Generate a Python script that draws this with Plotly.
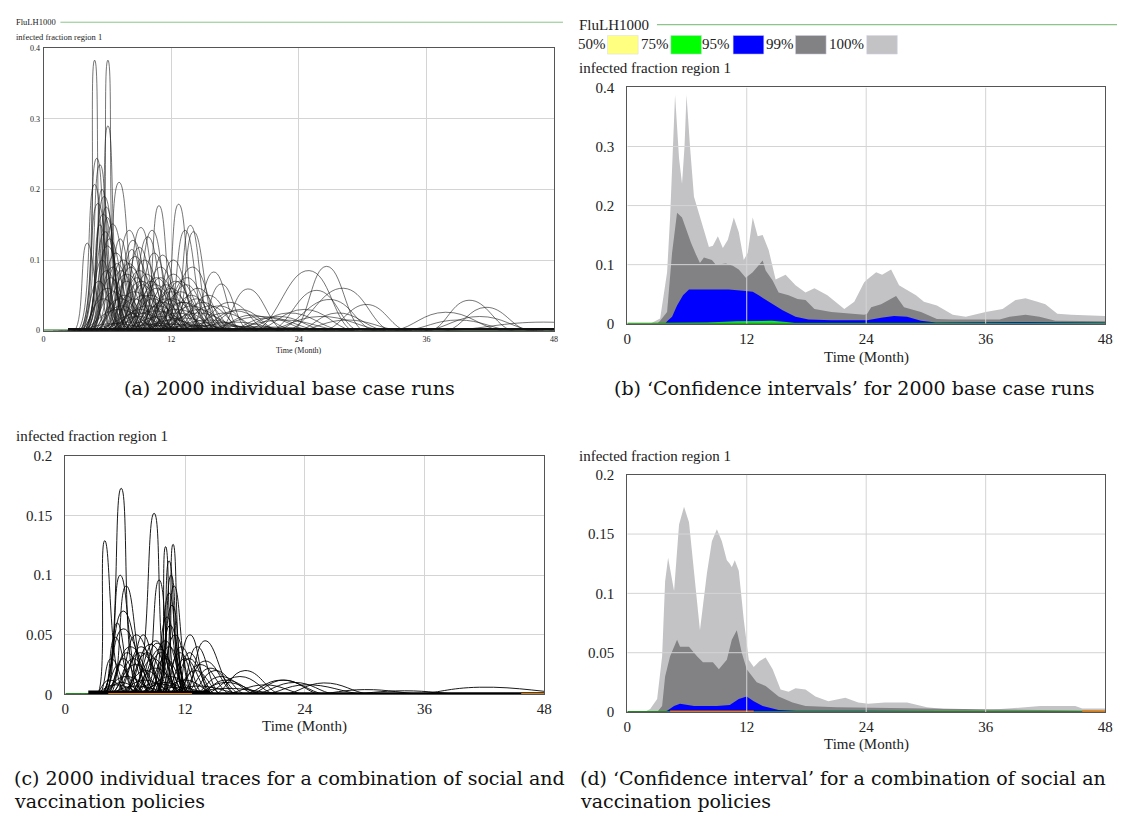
import plotly.graph_objects as go

W, H = 1125, 822
def px(x): return x / W
def py(y): return 1 - y / H

SERIF = "Liberation Serif"
CAP = "DejaVu Serif"

# ---------------- data ----------------
# (a) individual base-case runs: start, peak time, peak value, end (months / fraction)
A_START = [3.6, 4.7, 4.6, 3.4, 3.6, 5.2, 3.2, 3.8, 3.4, 3.9, 9.2, 11.0, 12.0, 11.4, 12.3, 7.0, 8.0, 5.8, 4.6, 7.6,
           6.2, 2.9, 9.0, 13.8, 14.5, 16.5, 4.0, 4.5, 5.0, 6.0, 5.5, 7.0, 6.5, 8.5, 8.0, 9.5, 10.0, 10.5, 5.0, 6.0,
           7.5, 4.2, 3.8, 4.3, 11.5, 12.5, 9.0, 7.0, 5.5, 8.5, 10.0, 13.0, 14.5, 6.0, 4.5, 3.5, 11.0, 6.8, 8.2, 9.8,
           5.0, 7.0, 9.0, 11.0, 13.0, 15.0, 17.0, 3.5, 6.0, 8.0, 10.5, 20.0, 23.5, 23.0, 21.5, 26.5, 36.5, 38.0, 33.0, 22.0,
           20.0, 19.0, 21.0, 24.0, 34.0, 36.0, 18.0, 38.0, 24.0, 3.0, 4.0, 5.0, 6.5, 8.0, 9.5, 11.5, 13.5, 16.0,
           3.8, 4.0, 4.4, 4.8, 5.2, 5.6, 6.0, 6.4, 6.8, 7.2, 7.6, 8.0, 8.4, 8.8, 9.2, 9.6, 10.0, 10.5, 11.0, 11.5,
           12.0, 12.5, 4.2, 5.0, 5.8, 6.6, 7.4, 8.2, 9.0, 9.8, 10.6, 3.5, 4.6, 6.2, 7.8, 9.4, 11.2, 13.5, 14.0, 15.0,
           16.0, 17.5, 5.4, 8.6, 12.0, 3.4, 4.5, 5.5, 6.5, 4.0, 4.1, 4.3]
A_PEAK_T = [4.8, 6.05, 6.05, 5.0, 5.3, 7.1, 4.8, 5.7, 5.1, 5.6, 10.85, 12.7, 13.8, 13.3, 14.1, 9.15, 10.2, 8.06, 6.5, 9.8,
            8.4, 4.1, 11.2, 16.0, 16.7, 19.2, 6.0, 6.8, 7.5, 8.6, 8.0, 9.5, 9.0, 11.0, 10.6, 12.2, 12.8, 13.5, 7.8, 9.2,
            10.5, 6.5, 5.8, 6.2, 14.5, 15.5, 12.0, 10.0, 8.5, 11.5, 13.2, 16.5, 18.0, 9.8, 7.2, 6.0, 14.0, 9.0, 10.4, 12.2,
            9.0, 11.0, 13.0, 15.5, 18.0, 20.5, 22.5, 7.0, 10.5, 12.5, 14.5, 24.96, 26.6, 28.2, 25.7, 30.4, 40.0, 41.6, 37.8, 27.0,
            24.5, 23.0, 26.0, 28.5, 39.0, 41.0, 22.0, 47.0, 27.6, 6.5, 8.0, 9.5, 11.0, 12.5, 14.0, 16.0, 18.5, 21.0,
            5.5, 5.9, 6.3, 6.9, 7.3, 7.8, 8.2, 8.8, 9.3, 9.7, 10.1, 10.6, 11.0, 11.5, 12.0, 12.4, 12.9, 13.4, 13.9, 14.4,
            15.0, 15.6, 6.6, 7.6, 8.5, 9.4, 10.3, 11.2, 12.1, 13.0, 13.9, 5.6, 7.3, 9.1, 10.8, 12.6, 14.6, 17.0, 17.5, 18.5,
            19.5, 21.0, 8.8, 12.0, 16.0, 5.2, 6.0, 7.2, 8.3, 5.3, 5.5, 5.9]
A_PEAK_V = [0.383, 0.383, 0.29, 0.244, 0.235, 0.21, 0.207, 0.19, 0.18, 0.165, 0.177, 0.179, 0.149, 0.142, 0.14, 0.146, 0.142, 0.142, 0.151, 0.133,
            0.128, 0.124, 0.107, 0.083, 0.066, 0.059, 0.12, 0.11, 0.1, 0.105, 0.095, 0.1, 0.085, 0.09, 0.075, 0.08, 0.07, 0.075, 0.08, 0.07,
            0.065, 0.09, 0.14, 0.13, 0.06, 0.05, 0.055, 0.05, 0.055, 0.045, 0.04, 0.035, 0.028, 0.035, 0.045, 0.06, 0.09, 0.118, 0.11, 0.1,
            0.025, 0.02, 0.018, 0.015, 0.012, 0.02, 0.015, 0.03, 0.028, 0.03, 0.025, 0.085, 0.091, 0.06, 0.057, 0.037, 0.043, 0.033, 0.026, 0.044,
            0.03, 0.025, 0.02, 0.015, 0.015, 0.02, 0.02, 0.012, 0.025, 0.01, 0.012, 0.008, 0.01, 0.009, 0.007, 0.008, 0.006, 0.005,
            0.1, 0.085, 0.075, 0.095, 0.085, 0.07, 0.09, 0.075, 0.065, 0.08, 0.07, 0.06, 0.075, 0.065, 0.06, 0.07, 0.055, 0.065, 0.05, 0.045,
            0.04, 0.035, 0.055, 0.05, 0.045, 0.05, 0.045, 0.04, 0.045, 0.04, 0.035, 0.045, 0.035, 0.03, 0.035, 0.025, 0.03, 0.025, 0.04, 0.03,
            0.022, 0.018, 0.02, 0.015, 0.012, 0.07, 0.16, 0.13, 0.115, 0.15, 0.2, 0.175]
A_END = [6.4, 7.5, 7.8, 7.0, 7.2, 9.4, 6.8, 8.0, 7.4, 8.2, 12.8, 14.8, 16.0, 15.6, 16.5, 11.5, 12.5, 10.5, 9.0, 12.2,
         11.0, 6.0, 13.6, 18.5, 19.2, 22.5, 8.5, 9.5, 10.5, 11.5, 11.0, 12.2, 12.0, 13.8, 13.5, 15.0, 15.8, 16.5, 11.0, 12.5,
         13.8, 9.0, 8.2, 8.8, 17.5, 18.5, 15.2, 13.5, 12.0, 15.0, 16.8, 20.0, 22.0, 13.8, 10.5, 9.0, 17.0, 11.4, 12.8, 14.8,
         13.0, 15.5, 17.5, 20.0, 23.0, 26.0, 28.0, 11.0, 15.0, 17.0, 19.0, 29.0, 30.0, 32.5, 29.5, 34.0, 44.0, 45.5, 43.0, 31.0,
         29.0, 28.0, 32.0, 33.5, 44.0, 46.0, 26.5, 56.0, 32.0, 11.0, 13.0, 15.0, 16.5, 18.0, 20.0, 22.0, 25.0, 28.0,
         7.5, 8.3, 8.8, 9.3, 9.8, 10.3, 10.8, 11.3, 11.9, 12.3, 12.8, 13.3, 13.8, 14.3, 14.8, 15.2, 15.8, 16.2, 16.8, 17.3,
         18.0, 18.8, 9.4, 10.4, 11.4, 12.4, 13.4, 14.4, 15.4, 16.4, 17.4, 8.2, 10.2, 12.3, 14.0, 16.0, 18.0, 20.5, 21.0, 22.0,
         23.5, 25.0, 12.5, 16.0, 20.0, 7.4, 7.8, 9.2, 10.3, 7.0, 7.3, 7.9]

# (c) individual traces, social + vaccination policies
C_START = [3.7, 3.2, 6.8, 9.9, 9.2, 4.0, 4.5, 7.8, 9.3, 9.6, 3.6, 3.6, 12.0, 11.4, 6.5, 9.0, 15.0, 18.5, 5.0, 22.0,
           18.0, 35.0, 20.0, 4.0, 5.0, 6.0, 7.0, 8.0, 4.5, 6.5, 9.5, 10.0, 11.0, 12.0, 13.0, 3.8, 4.2, 8.5, 9.0, 5.5,
           7.5, 3.5, 10.5, 11.2, 2.8, 4.0, 6.0, 8.0, 10.0, 12.0,
           3.4, 3.8, 4.2, 4.6, 5.2, 5.8, 6.4, 7.2, 7.8, 8.4, 9.0, 9.8, 10.4, 10.8, 11.6, 12.5, 13.5, 3.0, 3.6, 5.0,
           7.0, 9.0, 4.0, 8.8, 9.2, 6.0, 7.0, 13.0, 14.0, 16.0, 19.0, 25.0, 28.0]
C_PEAK_T = [5.6, 3.95, 8.9, 10.8, 10.05, 5.5, 6.1, 9.4, 10.4, 10.9, 5.8, 5.8, 14.0, 13.2, 9.05, 10.5, 18.0, 21.9, 7.1, 25.9,
            21.6, 41.5, 24.0, 6.5, 7.5, 8.5, 9.5, 10.0, 7.0, 9.0, 11.5, 12.0, 13.5, 14.5, 15.5, 5.0, 5.8, 10.2, 10.7, 8.0,
            10.5, 6.0, 12.5, 12.4, 5.0, 7.0, 9.0, 11.0, 13.0, 16.0,
            4.6, 5.4, 6.2, 6.8, 7.6, 8.2, 8.8, 9.6, 10.0, 10.4, 11.0, 11.6, 12.4, 13.0, 14.0, 15.0, 16.0, 4.4, 5.6, 8.0,
            10.0, 12.0, 5.2, 10.4, 10.6, 7.8, 9.2, 16.0, 17.5, 20.0, 23.0, 30.0, 34.0]
C_PEAK_V = [0.173, 0.129, 0.152, 0.126, 0.124, 0.1, 0.091, 0.096, 0.112, 0.091, 0.07, 0.055, 0.045, 0.04, 0.045, 0.058, 0.02, 0.012, 0.05, 0.0096,
            0.012, 0.006, 0.008, 0.04, 0.035, 0.042, 0.038, 0.03, 0.025, 0.022, 0.035, 0.03, 0.025, 0.022, 0.015, 0.048, 0.03, 0.065, 0.075, 0.02,
            0.015, 0.015, 0.05, 0.035, 0.008, 0.007, 0.009, 0.006, 0.007, 0.005,
            0.03, 0.025, 0.035, 0.03, 0.04, 0.035, 0.03, 0.035, 0.045, 0.04, 0.05, 0.04, 0.03, 0.02, 0.028, 0.02, 0.012, 0.012, 0.01, 0.012,
            0.01, 0.012, 0.06, 0.085, 0.1, 0.05, 0.043, 0.01, 0.015, 0.008, 0.01, 0.004, 0.003]
C_END = [7.4, 6.0, 10.6, 12.2, 11.4, 7.8, 8.5, 11.2, 12.0, 12.8, 8.6, 9.2, 17.0, 15.5, 11.5, 12.5, 21.5, 25.5, 10.0, 30.5,
         26.0, 52.0, 30.0, 9.5, 10.5, 11.5, 12.0, 12.5, 10.0, 12.0, 13.5, 14.5, 16.5, 17.5, 19.0, 7.0, 8.0, 12.0, 12.3, 11.0,
         13.5, 9.5, 14.5, 15.0, 8.0, 11.0, 13.0, 15.0, 18.0, 22.0,
         6.5, 7.5, 8.5, 9.2, 10.0, 10.8, 11.4, 12.0, 12.4, 12.6, 13.0, 13.8, 14.8, 15.6, 17.0, 18.0, 19.5, 6.5, 8.0, 11.0,
         13.0, 15.0, 7.0, 12.0, 12.0, 9.8, 11.5, 20.0, 21.0, 24.0, 27.0, 36.0, 40.0]

# (b) confidence bands, base case (upper bounds; lower bounds ~0)
B_T_100 = [0, 2.3, 3.3, 4.0, 4.3, 4.6, 4.8, 5.2, 5.5, 5.75, 5.95, 6.3, 6.7, 7.0, 7.7, 8.2, 8.6, 9.1, 9.6, 10.1, 10.7, 11.2,
           11.7, 12.1, 12.6, 13.1, 13.6, 14.2, 14.9, 15.9, 16.9, 17.9, 18.8, 20.1, 21.8, 22.8, 23.8, 24.1, 25.0, 25.6, 26.5,
           27.3, 27.8, 29.0, 29.8, 31.1, 32.7, 34.0, 36.0, 37.7, 39.0, 40.0, 41.2, 42.0, 43.2, 44.6, 48]
B_V_100 = [0, 0, 0.009, 0.087, 0.18, 0.3, 0.387, 0.28, 0.237, 0.3, 0.387, 0.3, 0.215, 0.198, 0.158, 0.13, 0.132, 0.148, 0.128, 0.142, 0.18, 0.155,
           0.108, 0.12, 0.18, 0.148, 0.15, 0.125, 0.075, 0.083, 0.065, 0.053, 0.06, 0.048, 0.025, 0.037, 0.07, 0.075, 0.087, 0.083, 0.092,
           0.065, 0.06, 0.048, 0.037, 0.031, 0.015, 0.012, 0.02, 0.025, 0.04, 0.043, 0.037, 0.033, 0.017, 0.015, 0.013]
B_T_99 = [0, 3.0, 3.3, 4.0, 4.5, 5.0, 5.5, 5.95, 6.4, 6.9, 7.3, 7.7, 8.5, 8.9, 9.9, 10.6, 11.2, 11.9, 12.6, 13.6, 13.9, 14.6,
          15.2, 16.2, 17.1, 17.9, 18.8, 20.5, 22.1, 23.8, 24.1, 24.5, 25.5, 27.0, 27.8, 29.5, 31.1, 32.7, 37.4, 38.4, 40.0,
          41.4, 43.0, 48]
B_V_99 = [0, 0, 0.005, 0.02, 0.12, 0.188, 0.18, 0.158, 0.137, 0.117, 0.103, 0.112, 0.108, 0.1, 0.102, 0.098, 0.092, 0.078, 0.087, 0.107, 0.09, 0.073,
          0.053, 0.048, 0.042, 0.04, 0.025, 0.02, 0.017, 0.015, 0.017, 0.028, 0.033, 0.047, 0.028, 0.02, 0.008, 0.007, 0.007, 0.012, 0.015,
          0.012, 0.005, 0.004]
B_T_95 = [0, 3.8, 4.0, 4.5, 5.0, 5.6, 6.2, 7.6, 8.9, 10.2, 11.6, 12.6, 13.2, 14.2, 15.6, 16.9, 18.2, 20.5, 23.8, 24.1, 25.5,
          26.8, 28.1, 29.5, 31.0, 40.0, 48]
B_V_95 = [0, 0, 0.004, 0.012, 0.031, 0.048, 0.058, 0.058, 0.058, 0.058, 0.056, 0.054, 0.048, 0.037, 0.023, 0.012, 0.007, 0.006, 0.006, 0.006, 0.01,
          0.013, 0.012, 0.005, 0.002, 0.003, 0.002]
B_T_75 = [0, 5, 8, 11, 13, 14.5, 16, 17, 48]
B_V_75 = [0.001, 0.001, 0.002, 0.004, 0.005, 0.005, 0.003, 0.001, 0.001]
B_T_50 = [0, 48]
B_V_50 = [0.0006, 0.0006]

# (d) confidence bands, social + vaccination policies
D_T_100 = [0, 1.7, 2.3, 3.0, 3.5, 3.8, 4.1, 4.5, 4.7, 5.2, 5.7, 6.2, 6.7, 7.3, 8.0, 8.5, 9.0, 9.5, 10.0, 10.3, 10.5, 10.8,
           11.2, 11.7, 12.2, 12.7, 13.3, 13.9, 14.6, 15.4, 16.2, 16.9, 17.9, 18.9, 20.2, 21.9, 23.2, 24.2, 25.9, 28.1, 30.1,
           31.8, 35.8, 38.5, 41.5, 45.0, 45.7, 48]
D_V_100 = [0, 0, 0.0025, 0.011, 0.047, 0.11, 0.13, 0.11, 0.102, 0.158, 0.173, 0.16, 0.117, 0.069, 0.117, 0.144, 0.154, 0.144, 0.128, 0.125, 0.122, 0.128,
           0.119, 0.078, 0.044, 0.038, 0.043, 0.046, 0.036, 0.019, 0.017, 0.02, 0.019, 0.013, 0.009, 0.012, 0.008, 0.007, 0.008, 0.008, 0.004,
           0.0025, 0.0015, 0.003, 0.005, 0.005, 0.003, 0.003]
D_T_99 = [0, 3.0, 3.5, 3.8, 4.3, 5.0, 5.3, 6.2, 7.0, 7.6, 8.6, 9.2, 10.0, 10.5, 11.0, 11.5, 12.0, 13.0, 13.9, 15.2, 16.6, 17.9,
          21.0, 30.0, 48]
D_V_99 = [0, 0, 0.005, 0.03, 0.047, 0.061, 0.055, 0.055, 0.047, 0.042, 0.042, 0.036, 0.044, 0.061, 0.069, 0.05, 0.036, 0.025, 0.022, 0.013, 0.008, 0.005,
          0.004, 0.003, 0.001]
D_T_95 = [0, 3.5, 4.0, 4.7, 5.3, 6.7, 9.0, 10.3, 11.2, 12.0, 12.7, 13.6, 15.2, 17.0, 24.0, 48]
D_V_95 = [0, 0, 0.001, 0.005, 0.007, 0.005, 0.005, 0.006, 0.011, 0.013, 0.009, 0.005, 0.0017, 0.001, 0.001, 0.0005]

# near-zero runs (thick baseline) and coloured baseline runs
BASE_T = [0, 48]
BASE_V = [0.0, 0.0]
A_MASS_T = [2.3, 48]
A_MASS_V = [0.0015, 0.0015]
C_MASS_T = [2.3, 14.5]
C_MASS_V = [0.0015, 0.0015]
C_TAIL_T = [14.5, 48]
C_TAIL_V = [0.001, 0.001]
ORANGE_T1 = [4.3, 12.7]
ORANGE_T2 = [45.7, 48]
ORANGE_V = [0.0006, 0.0006]

X_TICKS = [0, 12, 24, 36, 48]
Y_TICKS_A = [0, 0.1, 0.2, 0.3, 0.4]
Y_TEXT_A = ["0", "0.1", "0.2", "0.3", "0.4"]
Y_TICKS_C = [0, 0.05, 0.1, 0.15, 0.2]
Y_TEXT_C = ["0", "0.05", "0.1", "0.15", "0.2"]

LEGEND_LABELS = ["50%", "75%", "95%", "99%", "100%"]
BAND_COLORS = {"50%": "#ffff80", "75%": "#00ff00", "95%": "#0000ff", "99%": "#828184", "100%": "#c3c2c5"}

# ---------------- figure ----------------
fig = go.Figure()

def bell(s, p, h, e):
    return [s - 0.6 * (p - s), s, p, e, e + 0.6 * (e - p)], [0, 0, h, 0, 0]

def line(x, y, xa, ya, color, width, shape="linear"):
    ln = dict(color=color, width=width, shape=shape)
    if shape == "spline":
        ln["smoothing"] = 1.3
    fig.add_trace(go.Scatter(x=x, y=y, mode="lines", line=ln,
                             xaxis=xa, yaxis=ya, showlegend=False, hoverinfo="skip"))

# panel (a)
line(BASE_T, BASE_V, "x", "y", "#1f6b1f", 2)
for s, p, h, e in zip(A_START, A_PEAK_T, A_PEAK_V, A_END):
    xs, ys = bell(s, p, h, e)
    line(xs, ys, "x", "y", "#1a1a1a", 0.6, "spline")
line(A_MASS_T, A_MASS_V, "x", "y", "#111111", 3)

# panel (c)
line(BASE_T, BASE_V, "x3", "y3", "#1f8a1f", 2.5)
for s, p, h, e in zip(C_START, C_PEAK_T, C_PEAK_V, C_END):
    xs, ys = bell(s, p, h, e)
    line(xs, ys, "x3", "y3", "#000000", 0.9, "spline")
line(C_MASS_T, C_MASS_V, "x3", "y3", "#000000", 4)
line(C_TAIL_T, C_TAIL_V, "x3", "y3", "#000000", 2)
for ot in (ORANGE_T1, ORANGE_T2):
    line(ot, ORANGE_V, "x3", "y3", "#e07b00", 1.5)

# panel (b)
for t, v, key in [(B_T_100, B_V_100, "100%"), (B_T_99, B_V_99, "99%"), (B_T_95, B_V_95, "95%"),
                  (B_T_75, B_V_75, "75%"), (B_T_50, B_V_50, "50%")]:
    fig.add_trace(go.Scatter(x=t, y=v, mode="lines", fill="tozeroy", fillcolor=BAND_COLORS[key],
                             line=dict(width=0, color=BAND_COLORS[key]),
                             xaxis="x2", yaxis="y2", showlegend=False, hoverinfo="skip"))
line(BASE_T, BASE_V, "x2", "y2", "#1f8a1f", 2)

# panel (d)
for t, v, key in [(D_T_100, D_V_100, "100%"), (D_T_99, D_V_99, "99%"), (D_T_95, D_V_95, "95%")]:
    fig.add_trace(go.Scatter(x=t, y=v, mode="lines", fill="tozeroy", fillcolor=BAND_COLORS[key],
                             line=dict(width=0, color=BAND_COLORS[key]),
                             xaxis="x4", yaxis="y4", showlegend=False, hoverinfo="skip"))
line(BASE_T, BASE_V, "x4", "y4", "#1f8a1f", 2)
for ot in (ORANGE_T1, ORANGE_T2):
    line(ot, ORANGE_V, "x4", "y4", "#e07b00", 1.5)

def xax(dom, anchor, fs, standoff, grid=True):
    return dict(domain=dom, anchor=anchor, range=[0, 48], tickmode="array", tickvals=X_TICKS,
                ticktext=[str(v) for v in X_TICKS], showgrid=grid, gridcolor="#d4d4d4", gridwidth=1,
                zeroline=False, showline=True, mirror=True, linecolor="#555555", linewidth=1,
                ticks="outside", ticklen=standoff, tickcolor="rgba(0,0,0,0)",
                tickfont=dict(family=SERIF, size=fs, color="#222"), fixedrange=True)

def yax(dom, anchor, rng, vals, text, fs, standoff, grid=True):
    return dict(domain=dom, anchor=anchor, range=rng, tickmode="array", tickvals=vals, ticktext=text,
                showgrid=grid, gridcolor="#d4d4d4", gridwidth=1, zeroline=False, showline=True, mirror=True,
                linecolor="#555555", linewidth=1, ticks="outside", ticklen=standoff,
                tickcolor="rgba(0,0,0,0)", tickfont=dict(family=SERIF, size=fs, color="#222"), fixedrange=True)

fig.update_layout(
    width=W, height=H, margin=dict(l=0, r=0, t=0, b=0),
    paper_bgcolor="white", plot_bgcolor="white", showlegend=False,
    xaxis=xax([px(40), px(556)], "y", 8, 1),
    yaxis=yax([py(329), py(41)], "x", [0, 0.4], Y_TICKS_A, Y_TEXT_A, 8, 1),
    xaxis2=xax([px(630), px(1113)], "y2", 15, 1, grid=False),
    yaxis2=yax([py(322), py(81)], "x2", [0, 0.4], Y_TICKS_A, Y_TEXT_A, 15, 9, grid=False),
    xaxis3=xax([px(62), px(546)], "y3", 15, 1),
    yaxis3=yax([py(700), py(457)], "x3", [0, 0.2], Y_TICKS_C, Y_TEXT_C, 15, 9),
    xaxis4=xax([px(630), px(1113)], "y4", 15, 1, grid=False),
    yaxis4=yax([py(718), py(476)], "x4", [0, 0.2], Y_TICKS_C, Y_TEXT_C, 15, 9, grid=False),
)

shapes = []
# gridlines drawn above the bands in (b) and (d)
for xr, yr, yt in [("x2", "y2", Y_TICKS_A), ("x4", "y4", Y_TICKS_C)]:
    for gx in X_TICKS[1:-1]:
        shapes.append(dict(type="line", xref=xr, yref=yr, x0=gx, x1=gx, y0=0, y1=yt[-1],
                           line=dict(color="#d4d4d4", width=1), layer="above"))
    for gy in yt[1:-1]:
        shapes.append(dict(type="line", xref=xr, yref=yr, x0=0, x1=48, y0=gy, y1=gy,
                           line=dict(color="#d4d4d4", width=1), layer="above"))
# title rules
shapes.append(dict(type="line", xref="paper", yref="paper", x0=px(57), x1=px(565), y0=py(14.5), y1=py(14.5),
                   line=dict(color="#8cc48c", width=1)))
shapes.append(dict(type="line", xref="paper", yref="paper", x0=px(660), x1=px(1125), y0=py(17), y1=py(17),
                   line=dict(color="#8cc48c", width=1.3)))

annotations = []
def txt(x, y, s, size, anchor="left", family=SERIF, color="#222"):
    annotations.append(dict(x=px(x), y=py(y), xref="paper", yref="paper", text=s, showarrow=False,
                            xanchor=anchor, yanchor="middle", font=dict(family=family, size=size, color=color)))

# legend for (b)
legend_x = [578, 642, 704, 768, 832]
box_x = [610, 674, 737, 800, 872]
for lab, tx, bx in zip(LEGEND_LABELS, legend_x, box_x):
    txt(tx, 37, lab, 15)
    shapes.append(dict(type="rect", xref="paper", yref="paper", x0=px(bx), x1=px(bx + 31), y0=py(47), y1=py(28),
                       fillcolor=BAND_COLORS[lab], line=dict(color="#d8d8f0", width=0.5)))

txt(10, 14.5, "FluLH1000", 8.5)
txt(10, 30, "infected fraction region 1", 8.5)
txt(298, 349, "Time (Month)", 8, anchor="center")

txt(579, 17, "FluLH1000", 15)
txt(579, 61, "infected fraction region 1", 15)
txt(872, 356, "Time (Month)", 15, anchor="center")

txt(10, 437, "infected fraction region 1", 15)
txt(304, 733, "Time (Month)", 15, anchor="center")

txt(579, 457, "infected fraction region 1", 15)
txt(872, 751, "Time (Month)", 15, anchor="center")

# captions
txt(289, 388, "(a) 2000 individual base case runs", 19, anchor="center", family=CAP, color="#111")
txt(860, 388, "(b) ‘Confidence intervals’ for 2000 base case runs", 19, anchor="center", family=CAP, color="#111")
txt(8, 785, "(c) 2000 individual traces for a combination of social and", 19, family=CAP, color="#111")
txt(8, 809, "vaccination policies", 19, family=CAP, color="#111")
txt(580, 785, "(d) ‘Confidence interval’ for a combination of social an", 19, family=CAP, color="#111")
txt(580, 809, "vaccination policies", 19, family=CAP, color="#111")

fig.update_layout(shapes=shapes, annotations=annotations)
fig.write_html("out.html")
